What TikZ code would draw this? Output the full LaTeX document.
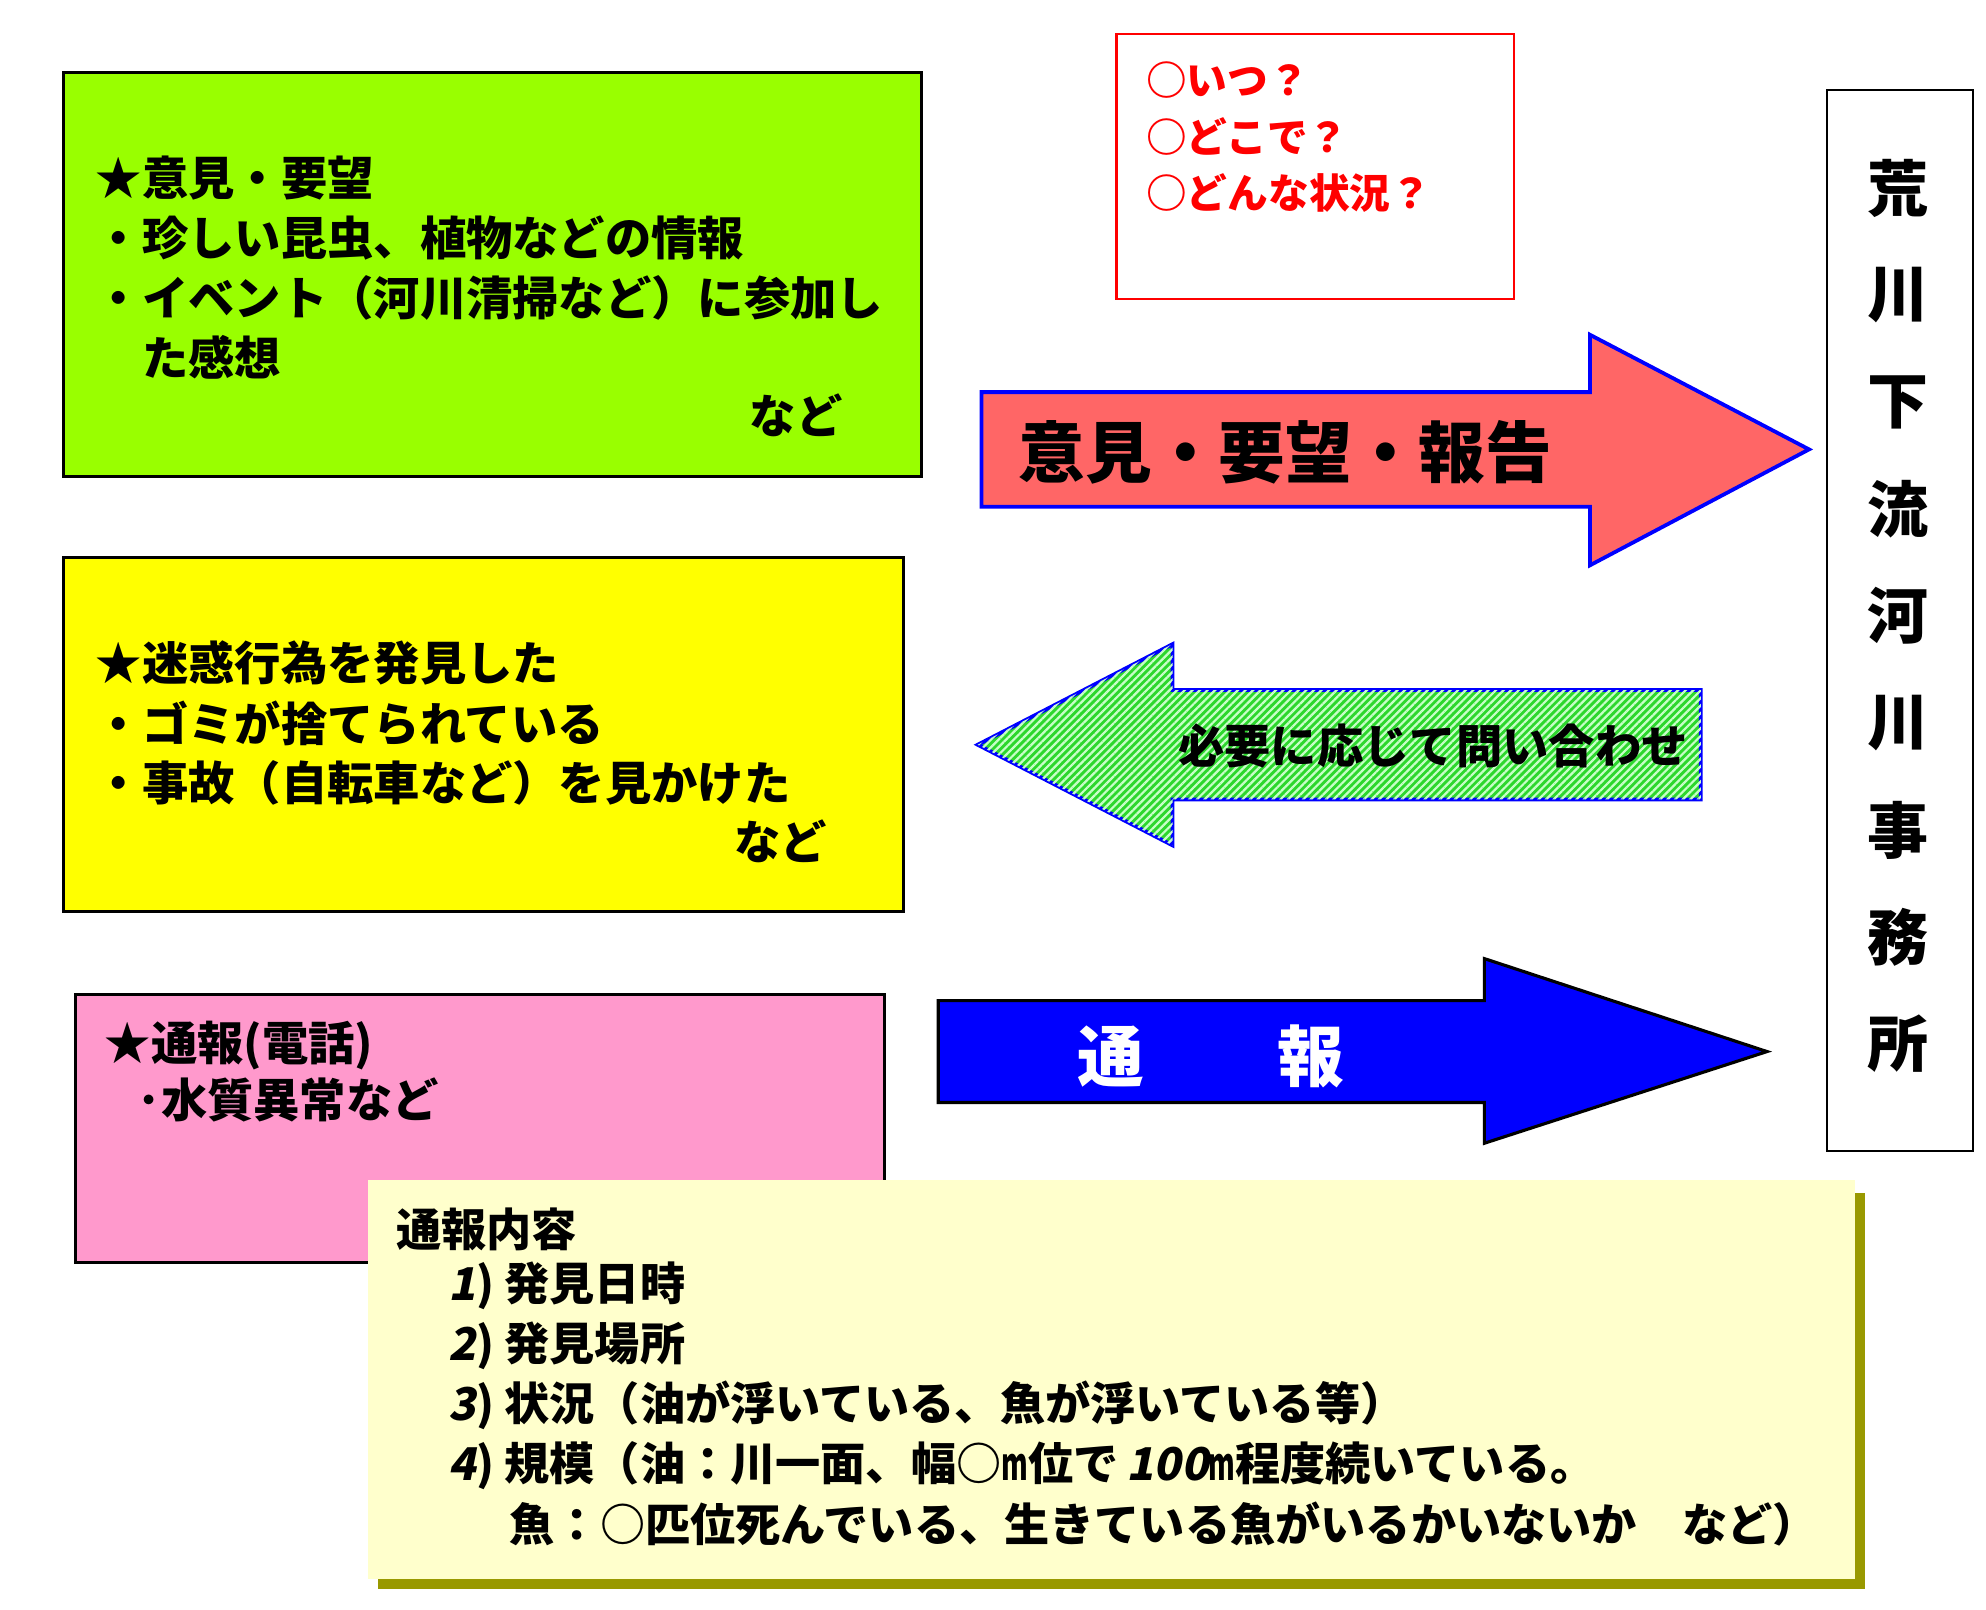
\documentclass[tikz,border=0pt]{standalone}
\usepackage{fontspec}
\setmainfont{Noto Sans CJK JP}
\newfontfamily\slnum{Noto Sans CJK JP}[FakeSlant=0.2]
\usetikzlibrary{patterns.meta}
\definecolor{leaf}{RGB}{153,255,0}
\definecolor{lemon}{RGB}{255,255,0}
\definecolor{rose}{RGB}{255,153,204}
\definecolor{salmon}{RGB}{255,102,102}
\definecolor{grass}{RGB}{45,215,45}
\definecolor{mint}{RGB}{200,255,200}
\definecolor{cream}{RGB}{255,255,204}
\definecolor{olive}{RGB}{153,153,0}
\newcommand{\metre}{\scalebox{0.6}[1]{m}}

\begin{document}
\begin{tikzpicture}[x=0.02cm,y=-0.02cm,
  txt/.style={anchor=west,inner sep=0pt,font=\fontsize{20.7}{24}\selectfont\bfseries},
  memo/.style={anchor=west,inner sep=0pt,font=\fontsize{20.2}{24}\selectfont\bfseries},
  ask/.style={anchor=west,inner sep=0pt,text=red,font=\fontsize{18.2}{22}\selectfont\bfseries},
  big/.style={inner sep=0pt,font=\fontsize{29.8}{34}\selectfont\bfseries},
  box/.style={draw=black,line width=1.4pt},
  arrowline/.style={draw=blue,line width=1.7pt}]
          \useasboundingbox (0,0) rectangle (1560,1264);
          \draw[box,fill=leaf] (50,57) rectangle (724,374);
          \draw[box,fill=lemon] (50,438) rectangle (710,716);
          \draw[box,fill=rose] (59,781) rectangle (695,992);
          \draw[red,line width=1pt,fill=white] (877,27) rectangle (1189,235);
          \draw[black,line width=0.8pt,fill=white] (1435,71) rectangle (1550,904);
          \fill[olive] (297,937) rectangle (1465,1248);
          \fill[cream] (289,927) rectangle (1457,1240);
          \draw[arrowline,fill=salmon] (771,308) -- (1249,308) -- (1249,263) -- (1421,353)
          -- (1249,444) -- (1249,398) -- (771,398) -- cycle;
          \draw[arrowline,fill=grass,
          postaction={pattern={Lines[angle=45,distance=2.4pt,line width=1pt]},pattern color=mint}]
          (768,585) -- (921,506) -- (921,542) -- (1336,542) -- (1336,628) -- (921,628)
          -- (921,664) -- cycle;
          \draw[black,line width=1.4pt,fill=blue] (737,786) -- (1166,786) -- (1166,753)
          -- (1388,826) -- (1166,898) -- (1166,866) -- (737,866) -- cycle;
          \foreach \t [count=\i] in {{★意見・要望},{・珍しい昆虫、植物などの情報},
          {・イベント（河川清掃など）に参加し},{　た感想}}{
          \node[txt] (op\i) at (75,{140+47*(\i-1)}) {\t};
          }
          \node[txt,anchor=east] (opetc) at (662,326) {など};
          \foreach \t [count=\i] in {{★迷惑行為を発見した},{・ゴミが捨てられている},
          {・事故（自転車など）を見かけた}}{
          \node[txt] (ng\i) at (75,{521+47*(\i-1)}) {\t};
          }
          \node[txt,anchor=east] (ngetc) at (650,661) {など};
          \node[txt] (tel) at (82,821) {★通報(電話)};
          \node[txt] (water) at (108,864) {･水質異常など};
          \foreach \t [count=\i] in {{○いつ？},{○どこで？},{○どんな状況？}}{
          \node[ask] (q\i) at (900,{63+44.5*(\i-1)}) {\t};
          }
          \node[big,anchor=west] (report) at (800,355) {意見・要望・報告};
          \node[txt,anchor=east] (inquiry) at (1326,586) {必要に応じて問い合わせ};
          \node[big,anchor=west,text=white] (notice) at (846,830) {通　　報};
          \foreach \t [count=\i] in {荒,川,下,流,河,川,事,務,所}{
          \node[big,font=\fontsize{27.3}{30}\selectfont\bfseries] (office\i) at (1491,{148+84*(\i-1)}) {\t};
          }
          \node[memo] (items) at (311,966) {通報内容};
          \node[memo] (item1) at (352,1010) {{\slnum 1}) 発見日時};
          \node[memo] (item2) at (352,1057) {{\slnum 2}) 発見場所};
          \node[memo] (item3) at (352,1104) {{\slnum 3}) 状況（油が浮いている、魚が浮いている等）};
          \node[memo] (item4) at (352,1151) {{\slnum 4}) 規模（油：川一面、幅○\metre 位で\,{\slnum 100}\metre 程度続いている。};
          \node[memo] (item5) at (400,1197) {魚：○匹位死んでいる、生きている魚がいるかいないか　など）};
        \end{tikzpicture}
\end{document}
